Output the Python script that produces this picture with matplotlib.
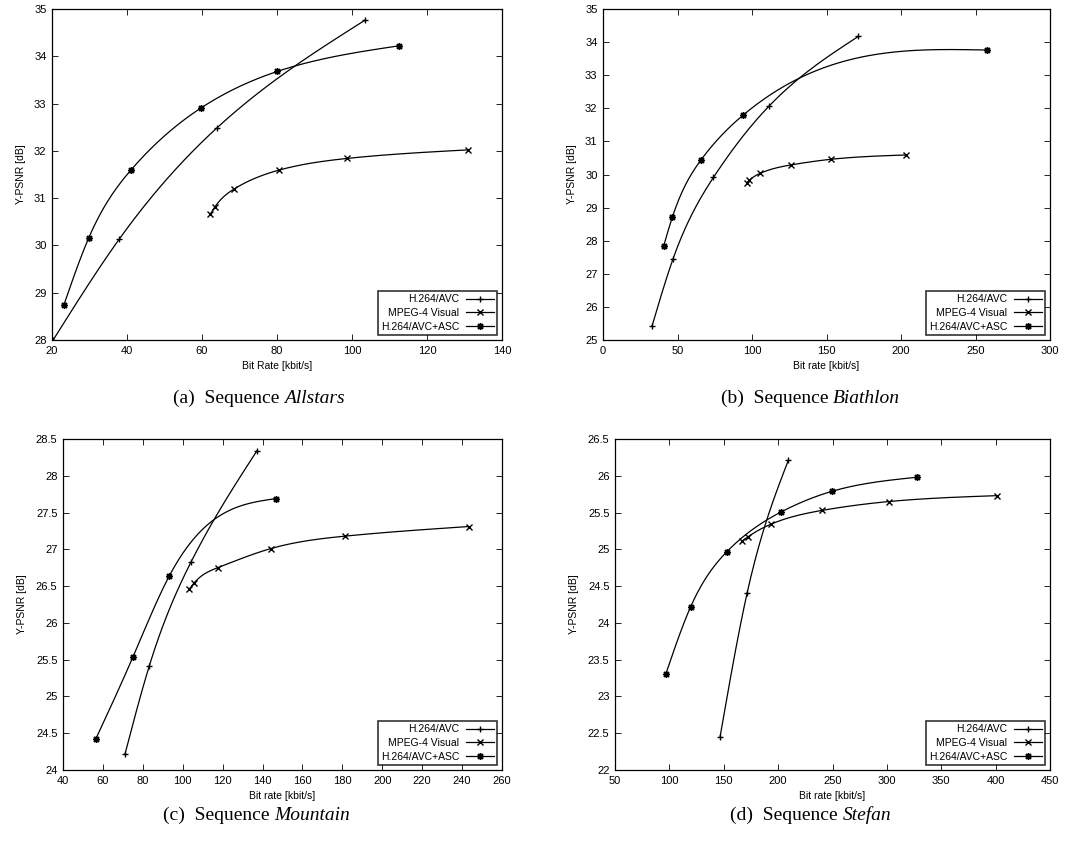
import numpy as np
import matplotlib
matplotlib.use("Agg")
import matplotlib.pyplot as plt
from matplotlib.ticker import MultipleLocator, FuncFormatter

plt.rcParams['font.family'] = ['Liberation Sans', 'DejaVu Sans']

series_names = ["H.264/AVC", "MPEG-4 Visual", "H.264/AVC+ASC"]

# (a) Allstars
allstars_avc_x = [20.3, 37.9, 63.9, 103.4]
allstars_avc_y = [28.0, 30.13, 32.48, 34.76]
allstars_mp4_x = [62.2, 63.4, 68.5, 80.4, 98.7, 130.8]
allstars_mp4_y = [30.66, 30.81, 31.19, 31.59, 31.84, 32.02]
allstars_asc_x = [23.2, 29.8, 41.0, 59.6, 80.1, 112.4]
allstars_asc_y = [28.75, 30.16, 31.59, 32.90, 33.68, 34.22]

# (b) Biathlon
biathlon_avc_x = [32.9, 47.0, 74.1, 111.5, 171.3]
biathlon_avc_y = [25.42, 27.45, 29.91, 32.07, 34.17]
biathlon_mp4_x = [96.5, 98.3, 105.7, 126.3, 153.1, 203.5]
biathlon_mp4_y = [29.75, 29.83, 30.04, 30.29, 30.46, 30.59]
biathlon_asc_x = [40.7, 46.6, 65.6, 94.2, 257.7]
biathlon_asc_y = [27.84, 28.72, 30.43, 31.80, 33.76]

# (c) Mountain
mountain_avc_x = [71.1, 83.3, 104.2, 137.2]
mountain_avc_y = [24.22, 25.42, 26.83, 28.34]
mountain_mp4_x = [103.3, 105.6, 117.5, 144.1, 181.5, 243.3]
mountain_mp4_y = [26.46, 26.54, 26.75, 27.01, 27.18, 27.31]
mountain_asc_x = [56.4, 75.1, 93.3, 146.8]
mountain_asc_y = [24.42, 25.54, 26.64, 27.69]

# (d) Stefan
stefan_avc_x = [146.6, 171.4, 209.4]
stefan_avc_y = [22.45, 24.40, 26.21]
stefan_mp4_x = [166.8, 172.3, 193.1, 240.6, 302.0, 401.6]
stefan_mp4_y = [25.11, 25.17, 25.34, 25.53, 25.65, 25.73]
stefan_asc_x = [96.6, 119.6, 153.0, 203.0, 249.8, 327.7]
stefan_asc_y = [23.30, 24.22, 24.97, 25.51, 25.79, 25.98]


def natural_spline(x, y, n=300):
    """Natural cubic spline through the points (like gnuplot 'smooth csplines')."""
    x = np.asarray(x, float)
    y = np.asarray(y, float)
    m = len(x)
    if m < 3:
        return x, y
    h = np.diff(x)
    A = np.zeros((m, m))
    r = np.zeros(m)
    A[0, 0] = A[-1, -1] = 1.0
    for i in range(1, m - 1):
        A[i, i - 1] = h[i - 1]
        A[i, i] = 2 * (h[i - 1] + h[i])
        A[i, i + 1] = h[i]
        r[i] = 6 * ((y[i + 1] - y[i]) / h[i] - (y[i] - y[i - 1]) / h[i - 1])
    M = np.linalg.solve(A, r)
    xs = np.linspace(x[0], x[-1], n)
    idx = np.clip(np.searchsorted(x, xs) - 1, 0, m - 2)
    x0, x1 = x[idx], x[idx + 1]
    hh = x1 - x0
    a = (x1 - xs) / hh
    b = (xs - x0) / hh
    ys = (a * y[idx] + b * y[idx + 1]
          + ((a ** 3 - a) * M[idx] + (b ** 3 - b) * M[idx + 1]) * hh ** 2 / 6)
    return xs, ys


markers = ['+', 'x', (8, 2, 0)]
msizes = [5, 5, 5]

# caption position: x where the italic sequence name starts, y centre (pixels)
panels = [
    dict(rect=(52, 9, 502, 340), xlim=(20, 140), ylim=(28, 35), xstep=20, ystep=1,
         xlabel="Bit Rate [kbit/s]", cap=("(a)  Sequence ", "Allstars"), capxy=(284, 398),
         data=[(allstars_avc_x, allstars_avc_y), (allstars_mp4_x, allstars_mp4_y),
               (allstars_asc_x, allstars_asc_y)]),
    dict(rect=(603, 9, 1050, 340), xlim=(0, 300), ylim=(25, 35), xstep=50, ystep=1,
         xlabel="Bit rate [kbit/s]", cap=("(b)  Sequence ", "Biathlon"), capxy=(833, 398),
         data=[(biathlon_avc_x, biathlon_avc_y), (biathlon_mp4_x, biathlon_mp4_y),
               (biathlon_asc_x, biathlon_asc_y)]),
    dict(rect=(63, 439, 502, 770), xlim=(40, 260), ylim=(24, 28.5), xstep=20, ystep=0.5,
         xlabel="Bit rate [kbit/s]", cap=("(c)  Sequence ", "Mountain"), capxy=(274, 815),
         data=[(mountain_avc_x, mountain_avc_y), (mountain_mp4_x, mountain_mp4_y),
               (mountain_asc_x, mountain_asc_y)]),
    dict(rect=(615, 439, 1050, 770), xlim=(50, 450), ylim=(22, 26.5), xstep=50, ystep=0.5,
         xlabel="Bit rate [kbit/s]", cap=("(d)  Sequence ", "Stefan"), capxy=(843, 815),
         data=[(stefan_avc_x, stefan_avc_y), (stefan_mp4_x, stefan_mp4_y),
               (stefan_asc_x, stefan_asc_y)]),
]

W, H = 1085, 843
fig = plt.figure(figsize=(W / 100, H / 100), dpi=100)
fmt = FuncFormatter(lambda v, p: "%g" % v)

for p in panels:
    l, t, r, b = p['rect']
    ax = fig.add_axes([l / W, 1 - b / H, (r - l) / W, (b - t) / H])
    for (xs, ys), name, mk, ms in zip(p['data'], series_names, markers, msizes):
        sx, sy = natural_spline(xs, ys)
        ax.plot(sx, sy, color='black', lw=0.9)
        ax.plot(xs, ys, linestyle='none', marker=mk, color='black', ms=ms, mew=1.0)
        # legend proxy
        ax.plot([], [], color='black', lw=0.9, marker=mk, ms=ms, mew=1.0, label=name)
    ax.set_xlim(*p['xlim'])
    ax.set_ylim(*p['ylim'])
    ax.xaxis.set_major_locator(MultipleLocator(p['xstep']))
    ax.yaxis.set_major_locator(MultipleLocator(p['ystep']))
    ax.xaxis.set_major_formatter(fmt)
    ax.yaxis.set_major_formatter(fmt)
    ax.tick_params(direction='in', top=True, right=True, length=4, width=0.6,
                   labelsize=8, pad=4)
    for s in ax.spines.values():
        s.set_linewidth(0.9)
    ax.set_xlabel(p['xlabel'], fontsize=7.5, labelpad=4)
    ax.set_ylabel("Y-PSNR [dB]", fontsize=7.5, labelpad=6)
    leg = ax.legend(loc='lower right', markerfirst=False, fontsize=7.5, frameon=True,
                    fancybox=False, edgecolor='black', handlelength=2.7,
                    borderpad=0.3, labelspacing=0.35, handletextpad=0.6,
                    borderaxespad=0.5)
    leg.get_frame().set_linewidth(1.2)
    cx, cy = p['capxy']
    fig.text(cx / W, 1 - cy / H, p['cap'][0], ha='right', va='center',
             fontsize=14, family='Liberation Serif')
    fig.text(cx / W, 1 - cy / H, p['cap'][1], ha='left', va='center',
             fontsize=14, family='Liberation Serif', style='italic')

fig.savefig("out.png", dpi=100)
